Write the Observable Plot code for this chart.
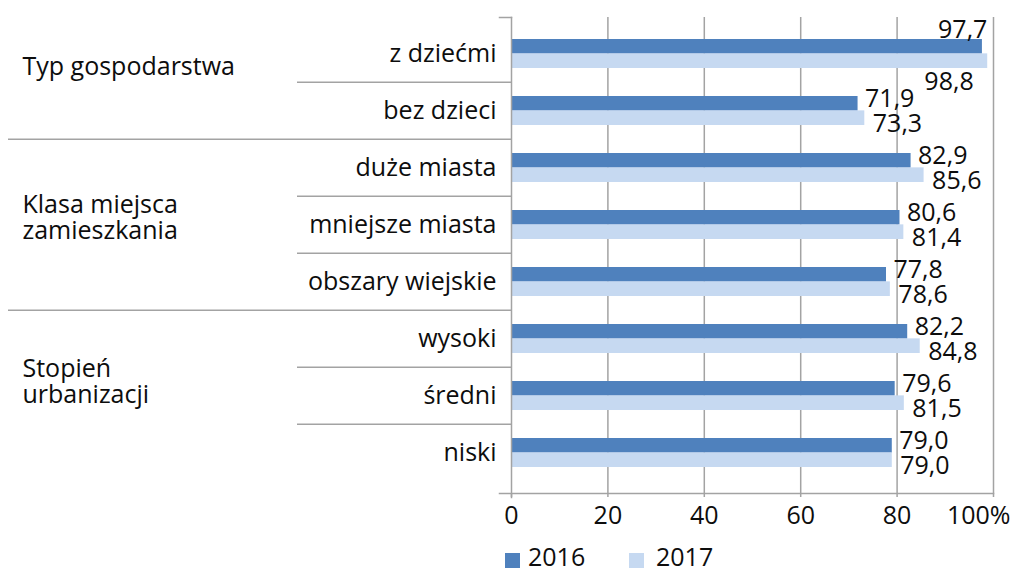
<!DOCTYPE html>
<html>
<head>
<meta charset="utf-8">
<script src="https://cdn.jsdelivr.net/npm/d3@7"></script>
<script src="https://cdn.jsdelivr.net/npm/@observablehq/plot@0.6"></script>
<style>
  body { margin: 0; background: #fff; font-family: "Open Sans", sans-serif; }
  #legend { position: relative; height: 32px; font-size: 25px; color: #0d0d0d; }
  #legend .sw { position: absolute; top: 13px; width: 15px; height: 15px; }
  #legend .lb { position: absolute; top: 4px; line-height: 1; }
</style>
</head>
<body>
<div id="chart"></div>
<div id="legend"></div>
<script>
// ---- data ----
const categories = ["z dziećmi", "bez dzieci", "duże miasta", "mniejsze miasta", "obszary wiejskie", "wysoki", "średni", "niski"];
const values2016 = [97.7, 71.9, 82.9, 80.6, 77.8, 82.2, 79.6, 79.0];
const values2017 = [98.8, 73.3, 85.6, 81.4, 78.6, 84.8, 81.5, 79.0];
const groups = ["Typ gospodarstwa", "Klasa miejsca\nzamieszkania", "Stopień\nurbanizacji"];
const groupSizes = [2, 3, 3];
const years = ["2016", "2017"];
const xTicks = [0, 20, 40, 60, 80, 100];
const colors = ["#4f81bd", "#c6d9f1"];

// ---- layout ----
const W = 1019, H = 540;
const mL = 511, mR = 26, mT = 17, mB = H - 493;
const yRange = [23.3, 482.7];
const step = (yRange[1] - yRange[0]) / categories.length;
const bw = step * 0.5;
const gridColor = "#a3a3a3";
const textColor = "#0d0d0d";
const fs = 25;
const fmt = v => v.toFixed(1).replace(".", ",");

const rows = categories.map((c, i) => ({category: c, v2016: values2016[i], v2017: values2017[i]}));

// group starts
const groupStarts = [];
let k = 0;
groups.forEach((g, gi) => { groupStarts.push(k); k += groupSizes[gi]; });
const seps = categories.slice(1).map((c, i) => ({category: c, full: groupStarts.includes(i + 1)}));
const groupTweaks = [-16, -8, -15];

const limit = 95;

const marks = [
  Plot.ruleX(xTicks.slice(1), {stroke: gridColor, strokeWidth: 1.5}),
  Plot.barX(rows, {x: "v2016", y: "category", fill: colors[0], insetBottom: bw / 2}),
  Plot.barX(rows, {x: "v2017", y: "category", fill: colors[1], insetTop: bw / 2}),
  // category separators
  Plot.ruleY(seps.filter(d => d.full), {y: "category", dy: -step / 2, insetLeft: -(mL - 8), insetRight: W - mL - mR, stroke: gridColor, strokeWidth: 1.5}),
  Plot.ruleY(seps.filter(d => !d.full), {y: "category", dy: -step / 2, insetLeft: -(mL - 297), insetRight: W - mL - mR, stroke: gridColor, strokeWidth: 1.5}),
  Plot.frame({anchor: "top", insetLeft: -12, insetRight: W - mL - mR, stroke: gridColor, strokeWidth: 1.5}),
  Plot.frame({anchor: "bottom", insetLeft: -12, stroke: gridColor, strokeWidth: 1.5}),
  Plot.frame({anchor: "left", insetBottom: -4, stroke: gridColor, strokeWidth: 1.5}),
  // axes
  Plot.axisX({ticks: xTicks, tickSize: 4, tickPadding: 9, stroke: gridColor, strokeWidth: 1.5, tickFormat: d => d === 100 ? "" : String(d), fontSize: fs, fill: textColor, label: null}),
  Plot.text([100], {x: d => d, text: ["100%"], frameAnchor: "bottom", lineAnchor: "top", dy: 13, textAnchor: "end", dx: 17, fontSize: fs, fill: textColor}),
  Plot.axisY({tickSize: 0, tickPadding: 15, fontSize: fs, fill: textColor, label: null}),
  // value labels
  Plot.text(rows.filter(d => d.v2016 <= limit), {x: "v2016", y: "category", text: d => fmt(d.v2016), textAnchor: "start", dx: 7, dy: -12, fontSize: fs, fill: textColor}),
  Plot.text(rows.filter(d => d.v2017 <= limit), {x: "v2017", y: "category", text: d => fmt(d.v2017), textAnchor: "start", dx: 8, dy: 13, fontSize: fs, fill: textColor}),
  Plot.text(rows.filter(d => d.v2016 > limit), {x: "v2016", y: "category", text: d => fmt(d.v2016), textAnchor: "end", dx: 5, dy: -24, fontSize: fs, fill: textColor}),
  Plot.text(rows.filter(d => d.v2017 > limit), {x: "v2017", y: "category", text: d => fmt(d.v2017), textAnchor: "end", dx: -14, dy: 28, fontSize: fs, fill: textColor}),
  // group labels
  ...groups.map((g, gi) => Plot.text([g], {
    y: () => categories[groupStarts[gi]], text: d => d,
    frameAnchor: "left", textAnchor: "start", dx: -(mL - 22),
    dy: (groupSizes[gi] - 1) / 2 * step + groupTweaks[gi],
    lineHeight: 1.06, fontSize: fs, fill: textColor
  }))
];

const chart = Plot.plot({
  width: W, height: H,
  marginLeft: mL, marginRight: mR, marginTop: mT, marginBottom: mB,
  x: {domain: [0, 100]},
  y: {domain: categories, range: yRange, paddingInner: 0.5, paddingOuter: 0.25},
  style: {fontFamily: "'Open Sans', sans-serif", fontSize: fs + "px", color: textColor, background: "white", overflow: "visible"},
  marks
});
document.getElementById("chart").appendChild(chart);

// legend
const legend = document.getElementById("legend");
const legendPos = [[505, 528], [629, 656]];
years.forEach((yr, i) => {
  const sw = document.createElement("div");
  sw.className = "sw"; sw.style.left = legendPos[i][0] + "px"; sw.style.background = colors[i];
  const lb = document.createElement("div");
  lb.className = "lb"; lb.style.left = legendPos[i][1] + "px"; lb.textContent = yr;
  legend.appendChild(sw); legend.appendChild(lb);
});
</script>
</body>
</html>
